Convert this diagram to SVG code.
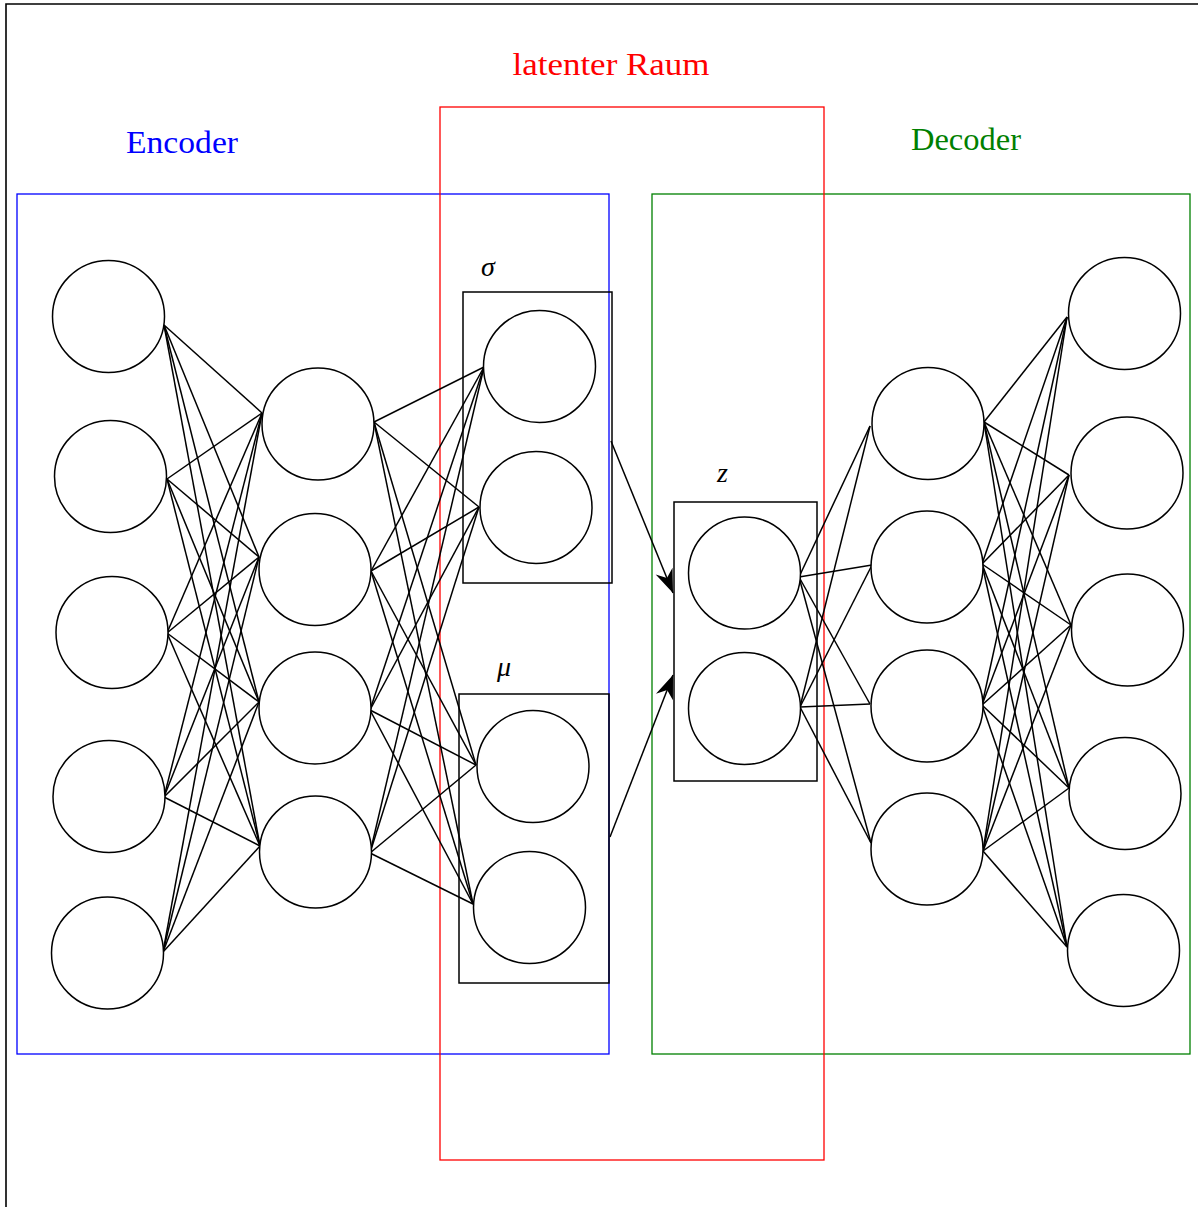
<svg xmlns="http://www.w3.org/2000/svg" width="1198" height="1207" viewBox="0 0 1198 1207">
<style>
.n{fill:#fff;stroke:#000;stroke-width:1.5}
.c line{stroke:#000;stroke-width:1.5}
.box{fill:none;stroke:#000;stroke-width:1.5}
.t{font-family:"Liberation Serif",serif}
.m{font-family:"Liberation Serif",serif;font-style:italic;font-size:28px;fill:#000}
</style>
<defs>
<marker id="ah" markerUnits="userSpaceOnUse" markerWidth="30" markerHeight="30" viewBox="-24 -12 28 24" refX="0" refY="0" orient="auto">
<path d="M0,0 L-22,-8.5 L-15,0 L-22,8.5 Z" fill="#000"/>
</marker>
</defs>
<rect width="1198" height="1207" fill="#fff"/>
<path d="M6,1207 L6,4 L1198,4" fill="none" stroke="#000" stroke-width="1.6"/>
<g id="frames">
<rect x="17" y="194" width="592" height="860" fill="none" stroke="#0000ff" stroke-width="1.3"/>
<rect x="652" y="194" width="538" height="860" fill="none" stroke="#008000" stroke-width="1.3"/>
<rect x="440" y="107" width="384" height="1053" fill="none" stroke="#ff0000" stroke-width="1.3"/>
<text class="t" x="611" y="75" font-size="31" fill="#ff0000" text-anchor="middle" textLength="197" lengthAdjust="spacingAndGlyphs">latenter Raum</text>
<text class="t" x="182" y="153" font-size="31" fill="#0000ff" text-anchor="middle" textLength="112" lengthAdjust="spacingAndGlyphs">Encoder</text>
<text class="t" x="966" y="150" font-size="31" fill="#008000" text-anchor="middle" textLength="110" lengthAdjust="spacingAndGlyphs">Decoder</text>
</g>
<g id="connectors" class="c">
<line x1="164" y1="325" x2="262" y2="413"/><line x1="164" y1="325" x2="259" y2="557"/><line x1="164" y1="325" x2="259" y2="702"/><line x1="164" y1="325" x2="260" y2="846"/>
<line x1="167" y1="479" x2="262" y2="413"/><line x1="167" y1="479" x2="259" y2="557"/><line x1="167" y1="479" x2="259" y2="702"/><line x1="167" y1="479" x2="260" y2="846"/>
<line x1="167" y1="633" x2="262" y2="413"/><line x1="167" y1="633" x2="259" y2="557"/><line x1="167" y1="633" x2="259" y2="702"/><line x1="167" y1="633" x2="260" y2="846"/>
<line x1="164" y1="797" x2="262" y2="413"/><line x1="164" y1="797" x2="259" y2="557"/><line x1="164" y1="797" x2="259" y2="702"/><line x1="164" y1="797" x2="260" y2="846"/>
<line x1="163" y1="952" x2="262" y2="413"/><line x1="163" y1="952" x2="259" y2="557"/><line x1="163" y1="952" x2="259" y2="702"/><line x1="163" y1="952" x2="260" y2="846"/>
<line x1="374" y1="422" x2="484" y2="367"/><line x1="374" y1="422" x2="479" y2="507"/><line x1="374" y1="422" x2="476" y2="765"/><line x1="374" y1="422" x2="473" y2="904"/>
<line x1="371" y1="571" x2="484" y2="367"/><line x1="371" y1="571" x2="479" y2="507"/><line x1="371" y1="571" x2="476" y2="765"/><line x1="371" y1="571" x2="473" y2="904"/>
<line x1="370" y1="710" x2="484" y2="367"/><line x1="370" y1="710" x2="479" y2="507"/><line x1="370" y1="710" x2="476" y2="765"/><line x1="370" y1="710" x2="473" y2="904"/>
<line x1="370" y1="853" x2="484" y2="367"/><line x1="370" y1="853" x2="479" y2="507"/><line x1="370" y1="853" x2="476" y2="765"/><line x1="370" y1="853" x2="473" y2="904"/>
<line x1="611" y1="441" x2="673" y2="593" marker-end="url(#ah)"/>
<line x1="610" y1="837" x2="673" y2="675" marker-end="url(#ah)"/>
<line x1="799" y1="577" x2="870" y2="426"/><line x1="799" y1="577" x2="872" y2="565"/><line x1="799" y1="577" x2="870" y2="704"/><line x1="799" y1="577" x2="871" y2="843"/>
<line x1="800" y1="707" x2="870" y2="426"/><line x1="800" y1="707" x2="872" y2="565"/><line x1="800" y1="707" x2="870" y2="704"/><line x1="800" y1="707" x2="871" y2="843"/>
<line x1="984" y1="422" x2="1067" y2="317"/><line x1="984" y1="422" x2="1069" y2="475"/><line x1="984" y1="422" x2="1071" y2="625"/><line x1="984" y1="422" x2="1069" y2="788"/><line x1="984" y1="422" x2="1067" y2="947"/>
<line x1="982" y1="564" x2="1067" y2="317"/><line x1="982" y1="564" x2="1069" y2="475"/><line x1="982" y1="564" x2="1071" y2="625"/><line x1="982" y1="564" x2="1069" y2="788"/><line x1="982" y1="564" x2="1067" y2="947"/>
<line x1="982" y1="705" x2="1067" y2="317"/><line x1="982" y1="705" x2="1069" y2="475"/><line x1="982" y1="705" x2="1071" y2="625"/><line x1="982" y1="705" x2="1069" y2="788"/><line x1="982" y1="705" x2="1067" y2="947"/>
<line x1="983" y1="851" x2="1067" y2="317"/><line x1="983" y1="851" x2="1069" y2="475"/><line x1="983" y1="851" x2="1071" y2="625"/><line x1="983" y1="851" x2="1069" y2="788"/><line x1="983" y1="851" x2="1067" y2="947"/>
</g>
<g id="sigma">
<rect class="box" x="463" y="292" width="149" height="291"/>
<text class="m" x="481" y="276">σ</text>
</g>
<g id="mu">
<rect class="box" x="459" y="694" width="150" height="289"/>
<text class="m" x="497" y="676">μ</text>
</g>
<g id="z">
<rect class="box" x="674" y="502" width="143" height="279"/>
<text class="m" x="717" y="482">z</text>
</g>
<g id="in1"><circle class="n" cx="108.5" cy="316.5" r="56"/></g>
<g id="in2"><circle class="n" cx="110.5" cy="476.5" r="56"/></g>
<g id="in3"><circle class="n" cx="112" cy="632.5" r="56"/></g>
<g id="in4"><circle class="n" cx="109" cy="796.5" r="56"/></g>
<g id="in5"><circle class="n" cx="107.5" cy="953" r="56"/></g>
<g id="h1"><circle class="n" cx="318" cy="424" r="56"/></g>
<g id="h2"><circle class="n" cx="315" cy="569.5" r="56"/></g>
<g id="h3"><circle class="n" cx="315" cy="708" r="56"/></g>
<g id="h4"><circle class="n" cx="315.5" cy="852" r="56"/></g>
<g id="s1"><circle class="n" cx="539.5" cy="366.5" r="56"/></g>
<g id="s2"><circle class="n" cx="536" cy="507.5" r="56"/></g>
<g id="m1"><circle class="n" cx="533" cy="766.5" r="56"/></g>
<g id="m2"><circle class="n" cx="529.5" cy="907.5" r="56"/></g>
<g id="z1"><circle class="n" cx="744.5" cy="573" r="56"/></g>
<g id="z2"><circle class="n" cx="744.5" cy="708.5" r="56"/></g>
<g id="d1"><circle class="n" cx="928" cy="423.5" r="56"/></g>
<g id="d2"><circle class="n" cx="927" cy="567" r="56"/></g>
<g id="d3"><circle class="n" cx="927" cy="706" r="56"/></g>
<g id="d4"><circle class="n" cx="927" cy="849" r="56"/></g>
<g id="o1"><circle class="n" cx="1124.5" cy="313.5" r="56"/></g>
<g id="o2"><circle class="n" cx="1127" cy="473" r="56"/></g>
<g id="o3"><circle class="n" cx="1127.5" cy="630" r="56"/></g>
<g id="o4"><circle class="n" cx="1125" cy="793.5" r="56"/></g>
<g id="o5"><circle class="n" cx="1123.5" cy="950.5" r="56"/></g>
</svg>
